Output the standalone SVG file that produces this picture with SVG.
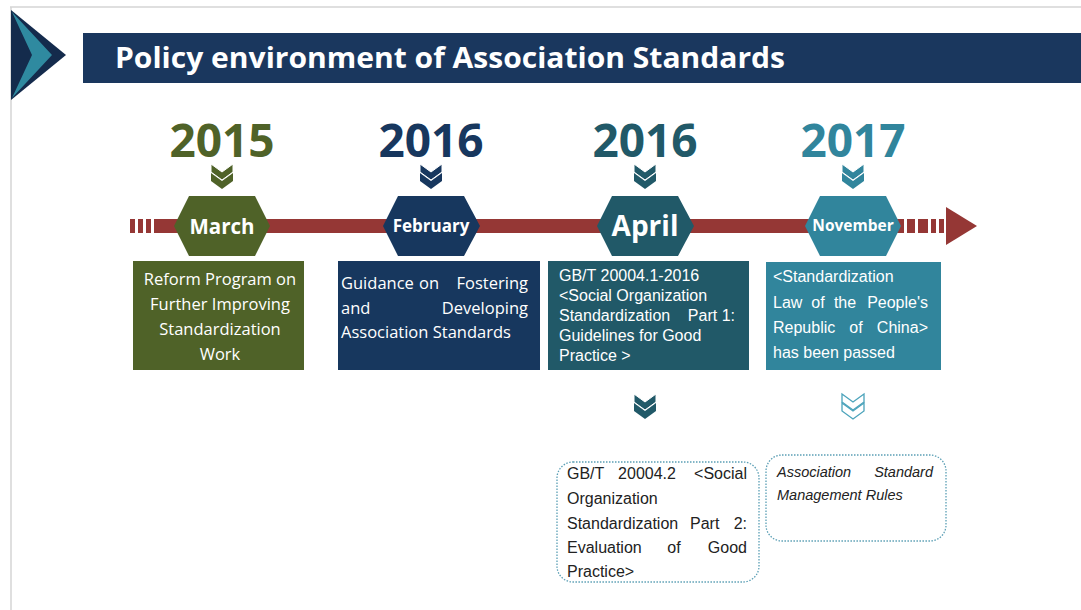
<svg xmlns="http://www.w3.org/2000/svg" width="1081" height="610" viewBox="0 0 1081 610">
<defs>
<style>
.title{font-family:"Open Sans","Liberation Sans",sans-serif;font-weight:bold;font-size:28px;fill:#fff}
.year{font-family:"Open Sans","Liberation Sans",sans-serif;font-weight:bold;font-size:46px;text-anchor:middle}
.month{font-family:"Open Sans","Liberation Sans",sans-serif;font-weight:bold;fill:#fff;text-anchor:middle}
.seg{font-family:"Open Sans","Liberation Sans",sans-serif;font-size:16.5px;fill:#fff}
.ar{font-family:"Liberation Sans",Arial,sans-serif;font-size:16px;fill:#fff}
.arb{font-family:"Liberation Sans",Arial,sans-serif;font-size:16px;fill:#222}
.dot{fill:#fff;stroke:#5b9fb5;stroke-width:1.3;stroke-dasharray:1.5 1.5}
.e{text-anchor:end}
.m{text-anchor:middle}
</style>
<g id="chev">
<path d="M-11,9 L0,17 L11,9 L11,17 L0,25 L-11,17 Z"/>
<path d="M-11,0 L0,8 L11,0 L11,8 L0,16 L-11,8 Z" stroke="#fff" stroke-width="1"/>
</g>
</defs>
<rect width="1081" height="610" fill="#fff"/>
<g id="frame" fill="none" stroke="#d4d4d4" stroke-width="1.5">
<line x1="10" y1="7" x2="1081" y2="7"/>
<line x1="11" y1="7" x2="11" y2="610"/>
</g>
<g id="header">
<polygon points="11,10 66,55 11,100" fill="#142b4c"/>
<polygon points="12,12 52,55 12,98 32,55" fill="#2f8aa0"/>
<rect x="83" y="33" width="998" height="50" fill="#1a375e"/>
<text class="title" x="115" y="68" textLength="670" lengthAdjust="spacingAndGlyphs">Policy environment of Association Standards</text>
</g>
<g id="timeline" fill="#953735">
<rect x="130" y="219" width="5" height="14"/>
<rect x="138" y="219" width="5" height="14"/>
<rect x="146" y="219" width="5" height="14"/>
<rect x="154" y="219" width="750" height="14"/>
<rect x="907" y="219" width="8" height="14"/>
<rect x="918" y="219" width="10" height="14"/>
<rect x="931" y="219" width="5" height="14"/>
<rect x="939" y="219" width="5" height="14"/>
<polygon points="946,207 977,226 946,245"/>
</g>
<g id="n2015">
<text class="year" x="222" y="157" fill="#4f6228">2015</text>
<use href="#chev" x="222" y="164" fill="#4f6228"/>
<polygon points="189,196 255,196 270,226 255,256 189,256 174,226" fill="#4f6228"/>
<text class="month" x="222" y="234" font-size="20.5">March</text>
<rect x="133" y="261" width="171" height="109" fill="#4f6228"/>
<g class="seg" text-anchor="middle">
<text x="220" y="285">Reform Program on</text>
<text x="220" y="310">Further Improving</text>
<text x="220" y="335">Standardization</text>
<text x="220" y="360">Work</text>
</g>
</g>
<g id="n2016a">
<text class="year" x="431" y="157" fill="#17375e">2016</text>
<use href="#chev" x="431" y="164" fill="#17375e"/>
<polygon points="398,196 464,196 480,226 464,256 398,256 383,226" fill="#17375e"/>
<text class="month" x="431" y="232" font-size="17">February</text>
<rect x="338" y="261" width="202" height="109" fill="#17375e"/>
<g class="seg">
<text x="341" y="289">Guidance</text><text class="m" x="429" y="289">on</text><text class="e" x="528" y="289">Fostering</text>
<text x="341" y="314">and</text><text class="e" x="528" y="314">Developing</text>
<text x="341" y="338">Association Standards</text>
</g>
</g>
<g id="n2016b">
<text class="year" x="645" y="157" fill="#215968">2016</text>
<use href="#chev" x="645" y="164" fill="#215968"/>
<polygon points="612,196 678,196 694,226 678,256 612,256 597,226" fill="#215968"/>
<text class="month" x="645" y="236" font-size="28">April</text>
<rect x="548" y="261" width="201" height="109" fill="#215968"/>
<g class="ar">
<text x="559" y="281">GB/T 20004.1-2016</text>
<text x="559" y="301">&lt;Social Organization</text>
<text x="559" y="321">Standardization</text><text class="e" x="735" y="321">Part 1:</text>
<text x="559" y="341">Guidelines for Good</text>
<text x="559" y="361">Practice &gt;</text>
</g>
<use href="#chev" x="645" y="394" fill="#215968"/>
<rect x="557" y="462" width="202" height="120" rx="16" class="dot"/>
<g class="arb">
<text x="567" y="479">GB/T</text><text class="m" x="647" y="479">20004.2</text><text class="e" x="747" y="479">&lt;Social</text>
<text x="567" y="504">Organization</text>
<text x="567" y="529">Standardization</text><text x="690" y="529">Part</text><text class="e" x="747" y="529">2:</text>
<text x="567" y="553">Evaluation</text><text class="m" x="674" y="553">of</text><text class="e" x="747" y="553">Good</text>
<text x="567" y="577">Practice&gt;</text>
</g>
</g>
<g id="n2017">
<text class="year" x="853" y="157" fill="#31859c">2017</text>
<use href="#chev" x="853" y="164" fill="#31859c"/>
<polygon points="820,196 886,196 901,226 886,256 820,256 805,226" fill="#31859c"/>
<text class="month" x="853" y="231" font-size="15.5">November</text>
<rect x="766" y="262" width="175" height="108" fill="#31859c"/>
<g class="ar">
<text x="773" y="282">&lt;Standardization</text>
<text x="773" y="308">Law</text><text class="m" x="818" y="308">of</text><text class="m" x="845" y="308">the</text><text class="e" x="928" y="308">People's</text>
<text x="773" y="333">Republic</text><text class="m" x="856" y="333">of</text><text class="e" x="928" y="333">China&gt;</text>
<text x="773" y="358">has been passed</text>
</g>
<g fill="#fff" stroke="#4ba3bb" stroke-width="1.3">
<path d="M842,403 L853,411 L864,403 L864,411 L853,419 L842,411 Z"/>
<path d="M842,394 L853,402 L864,394 L864,402 L853,410 L842,402 Z"/>
</g>
<rect x="766" y="455" width="180" height="86" rx="16" class="dot"/>
<g class="arb" font-style="italic" style="font-size:14.5px">
<text x="777" y="477">Association</text><text class="e" x="933" y="477">Standard</text>
<text x="777" y="500">Management Rules</text>
</g>
</g>
</svg>
